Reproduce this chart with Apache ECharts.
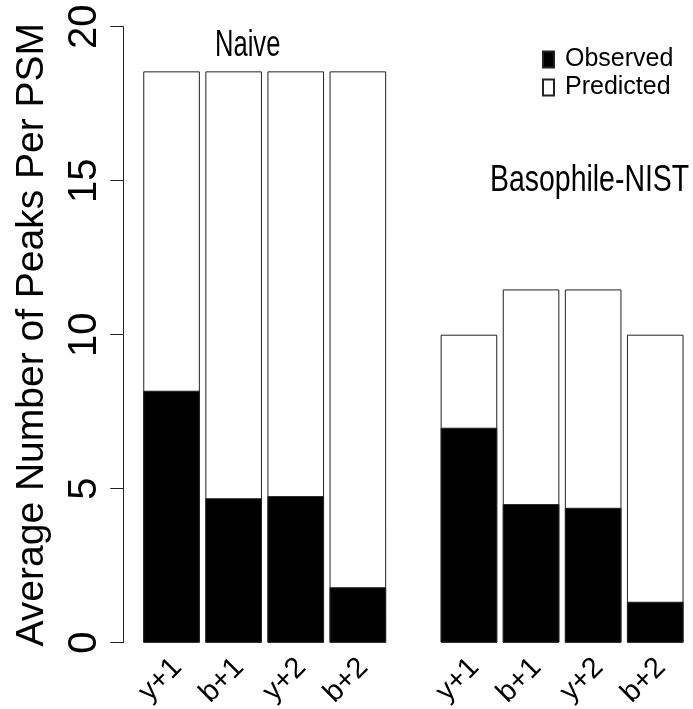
<!DOCTYPE html>
<html>
<head>
<meta charset="utf-8">
<script src="https://cdn.jsdelivr.net/npm/echarts@6/dist/echarts.min.js"></script>
<style>
html,body{margin:0;padding:0;background:#fff;}
#chart{width:693px;height:709px;}
</style>
</head>
<body>
<div id="chart"></div>
<script>
const categories = ['y+1', 'b+1', 'y+2', 'b+2'];
const naivePredicted = [18.55, 18.55, 18.55, 18.55];
const naiveObserved = [8.18, 4.69, 4.76, 1.80];
const basoPredicted = [10.0, 11.47, 11.47, 10.0];
const basoObserved = [6.98, 4.50, 4.38, 1.33];
const groupTitles = ['Naive', 'Basophile-NIST'];
const yAxisTitle = 'Average Number of Peaks Per PSM';

const chart = echarts.init(document.getElementById('chart'), null, {renderer: 'canvas'});
const FONT = "'Liberation Sans', Arial, sans-serif";

const predStyle = {color: '#ffffff', borderColor: '#222', borderWidth: 1};
const obsStyle = {color: '#000000', borderColor: '#222', borderWidth: 1};

function xAxis(i) {
  return {
    type: 'category', gridIndex: i, data: categories,
    axisLine: {show: false}, axisTick: {show: false},
    axisLabel: {rotate: 45, fontSize: 29, color: '#000', fontFamily: FONT, margin: 26,
                padding: [0, -8, 0, 0], interval: 0}
  };
}

function titleText(txt, x, y, sx) {
  return {
    type: 'text', x: x, y: y, scaleX: sx, silent: true,
    style: {text: txt, fontSize: 36, fontFamily: FONT, fill: '#000',
            textAlign: 'left', textVerticalAlign: 'middle', verticalAlign: 'middle'}
  };
}

const option = {
  animation: false,
  backgroundColor: '#fff',
  graphic: [
    titleText(groupTitles[0], 215, 46, 0.71),
    titleText(groupTitles[1], 490, 181, 0.79)
  ],
  legend: {
    orient: 'vertical', left: 542, top: 47, padding: 0,
    itemWidth: 11, itemHeight: 16, itemGap: 3,
    icon: 'rect',
    data: ['Observed', 'Predicted'],
    textStyle: {fontSize: 25, color: '#000', fontFamily: FONT, padding: [0, 0, 0, 6]}
  },
  grid: [
    {left: 140.5, right: 304.1, top: 26.7, bottom: 66.3, containLabel: false, outerBoundsMode: 'none'},
    {left: 437.9, right: 6.7, top: 26.7, bottom: 66.3, containLabel: false, outerBoundsMode: 'none'}
  ],
  xAxis: [xAxis(0), xAxis(1)],
  yAxis: [
    {
      type: 'value', gridIndex: 0, min: 0, max: 20, interval: 5, offset: 17.2,
      axisLine: {show: true, lineStyle: {color: '#222', width: 1}},
      axisTick: {show: true, length: 13, lineStyle: {color: '#222', width: 1}},
      splitLine: {show: false},
      axisLabel: {rotate: 90, fontSize: 40, color: '#000', fontFamily: FONT, margin: 18},
      name: yAxisTitle, nameLocation: 'middle', nameRotate: 90, nameGap: 72,
      nameTextStyle: {fontSize: 39, color: '#000', fontFamily: FONT}
    },
    {
      type: 'value', gridIndex: 1, min: 0, max: 20, interval: 5,
      axisLine: {show: false}, axisTick: {show: false}, axisLabel: {show: false},
      splitLine: {show: false}
    }
  ],
  series: [
    {name: 'Predicted', type: 'bar', xAxisIndex: 0, yAxisIndex: 0, data: naivePredicted,
     barWidth: 56.6, itemStyle: predStyle},
    {name: 'Observed', type: 'bar', xAxisIndex: 0, yAxisIndex: 0, data: naiveObserved,
     barWidth: 56.6, barGap: '-100%', itemStyle: obsStyle},
    {name: 'Predicted', type: 'bar', xAxisIndex: 1, yAxisIndex: 1, data: basoPredicted,
     barWidth: 56.6, itemStyle: predStyle},
    {name: 'Observed', type: 'bar', xAxisIndex: 1, yAxisIndex: 1, data: basoObserved,
     barWidth: 56.6, barGap: '-100%', itemStyle: obsStyle}
  ]
};
chart.setOption(option);
</script>
</body>
</html>
